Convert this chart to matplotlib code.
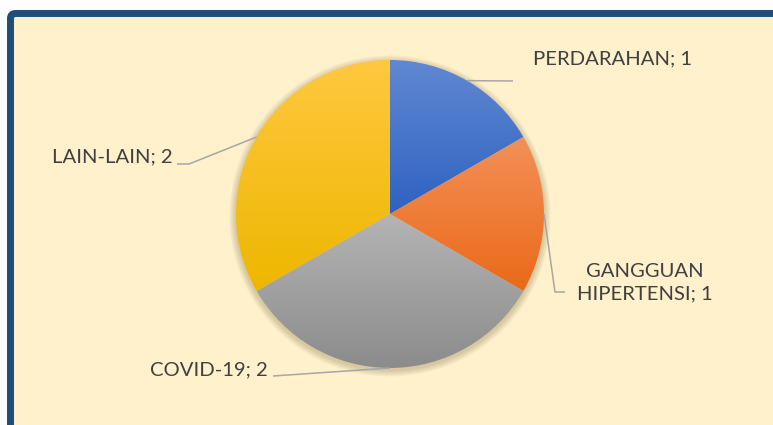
import numpy as np
import matplotlib

matplotlib.use("Agg")
import matplotlib.pyplot as plt
from matplotlib.patches import FancyBboxPatch, Circle

# data
labels = ["PERDARAHAN", "GANGGUAN\nHIPERTENSI", "COVID-19", "LAIN-LAIN"]
values = [1, 1, 2, 2]
# gradient (top, bottom) for each slice
grad_colors = [("#6088D2", "#2F62C0"),
               ("#F39058", "#EA6A18"),
               ("#B4B4B4", "#8C8C8C"),
               ("#FFC840", "#EDB700")]

W, H = 773, 425
CX, CY, R = 390, H - 214, 154

# label layout (pixels, y up): elbow points and text anchor
elbows = [[(513, H - 81)],
          [(555, H - 292), (565, H - 292)],
          [(273, H - 376)],
          [(189, H - 164), (177, H - 164)]]
text_pos = [(533, H - 59, "left"),
            (645, H - 283, "center"),
            (268, H - 370, "right"),
            (173, H - 157, "right")]

plt.rcParams["font.family"] = ["Lato", "DejaVu Sans"]
fig = plt.figure(figsize=(W / 100, H / 100), dpi=100, facecolor="white")
ax = fig.add_axes([0, 0, 1, 1])

# background frame
frame = FancyBboxPatch((10.5, -30), W + 40, H - 13.5 + 30,
                       boxstyle="round,pad=0,rounding_size=5",
                       facecolor="#FFF1CC", edgecolor="#1F4E79", linewidth=5.0, zorder=0)
ax.add_patch(frame)

# soft shadow
for i in range(8):
    ax.add_patch(Circle((CX, CY - 2), R + 1 + i * 0.8, facecolor="#7A6A40",
                        edgecolor="none", alpha=0.04, zorder=1))

wedges, _ = ax.pie(values, startangle=90, counterclock=False, center=(CX, CY), radius=R,
                   wedgeprops=dict(linewidth=0))

for k, (w, (c_top, c_bot)) in enumerate(zip(wedges, grad_colors)):
    w.set_facecolor("none")
    w.set_zorder(2)
    bb = w.get_path().get_extents()
    t = np.linspace(0, 1, 64)[:, None]
    top = np.array(matplotlib.colors.to_rgb(c_top))
    bot = np.array(matplotlib.colors.to_rgb(c_bot))
    img = (top * (1 - t) + bot * t)[:, None, :].repeat(2, axis=1)
    im = ax.imshow(img, extent=(bb.x0, bb.x1, bb.y0, bb.y1), origin="upper",
                   aspect="auto", interpolation="bilinear", zorder=3)
    im.set_clip_path(w)

    # leader line from slice middle
    mid = np.deg2rad((w.theta1 + w.theta2) / 2)
    pts = [(CX + R * np.cos(mid), CY + R * np.sin(mid))] + elbows[k]
    xs, ys = zip(*pts)
    ax.plot(xs, ys, color="#A6A6A6", linewidth=1.1, zorder=4, solid_capstyle="butt")

for lab, v, (tx, ty, ha) in zip(labels, values, text_pos):
    ax.text(tx, ty, f"{lab}; {v}", ha=ha, va="center", fontsize=14.6, color="#404040",
            linespacing=1.4, zorder=5)

ax.set_xlim(0, W)
ax.set_ylim(0, H)
ax.set_aspect("auto")
ax.axis("off")

fig.savefig("out.png", dpi=100, facecolor="white")
